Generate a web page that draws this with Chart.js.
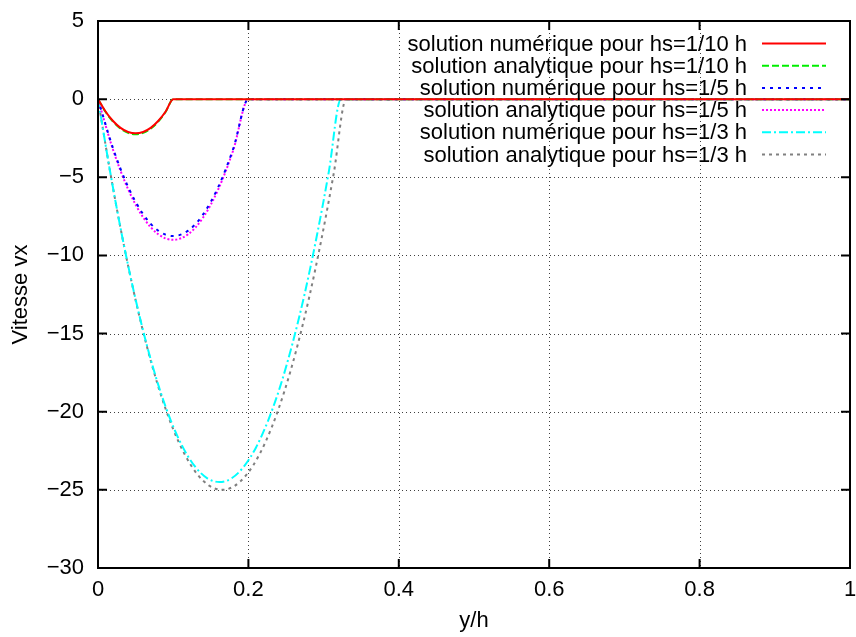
<!DOCTYPE html>
<html><head><meta charset="utf-8">
<script src="https://cdn.jsdelivr.net/npm/chart.js@4/dist/chart.umd.min.js"></script>
<style>html,body{margin:0;padding:0;background:#fff}</style>
</head><body>
<canvas id="c" width="856" height="637"></canvas>
<script>
// ---- data ----
const x10  = [0, 0.01, 0.02, 0.03, 0.04, 0.05, 0.06, 0.07, 0.08, 0.09, 0.10, 1.0];
const num10 = [0, -0.79, -1.40, -1.84, -2.10, -2.19, -2.10, -1.84, -1.40, -0.79, 0, 0];
const ana10 = [0, -0.81, -1.44, -1.89, -2.16, -2.25, -2.16, -1.89, -1.44, -0.81, 0, 0];

const x5   = [0, 0.02, 0.04, 0.06, 0.08, 0.10, 0.12, 0.14, 0.16, 0.18, 0.20, 1.0];
const num5 = [0, -3.15, -5.61, -7.36, -8.41, -8.76, -8.41, -7.36, -5.61, -3.15, 0, 0];
const ana5 = [0, -3.24, -5.76, -7.56, -8.64, -9.00, -8.64, -7.56, -5.76, -3.24, 0, 0];

const x3num = [0, 0.0162, 0.0323, 0.0485, 0.0646, 0.0808, 0.0969, 0.1131, 0.1292, 0.1454, 0.1615,
               0.1777, 0.1938, 0.2100, 0.2261, 0.2423, 0.2584, 0.2746, 0.2907, 0.3069, 0.323, 1.0];
const num3  = [0, -4.66, -8.82, -12.50, -15.68, -18.38, -20.58, -22.30, -23.52, -24.26, -24.5,
               -24.26, -23.52, -22.30, -20.58, -18.38, -15.68, -12.50, -8.82, -4.66, 0, 0];
const x3ana = [0, 0.0165, 0.033, 0.0495, 0.066, 0.0825, 0.099, 0.1155, 0.132, 0.1485, 0.165,
               0.1815, 0.198, 0.2145, 0.231, 0.2475, 0.264, 0.2805, 0.297, 0.3135, 0.33, 1.0];
const ana3  = [0, -4.75, -9, -12.75, -16, -18.75, -21, -22.75, -24, -24.75, -25,
               -24.75, -24, -22.75, -21, -18.75, -16, -12.75, -9, -4.75, 0, 0];

const seriesLabels = [
  'solution numérique pour hs=1/10 h',
  'solution analytique pour hs=1/10 h',
  'solution numérique pour hs=1/5 h',
  'solution analytique pour hs=1/5 h',
  'solution numérique pour hs=1/3 h',
  'solution analytique pour hs=1/3 h'
];
const xTickValues = [0, 0.2, 0.4, 0.6, 0.8, 1];
const yTickValues = [5, 0, -5, -10, -15, -20, -25, -30];
const xTitle = 'y/h';
const yTitle = 'Vitesse vx';

// ---- styles ----
const FONT = '"Liberation Sans", Arial, sans-serif';
const FS = 22;
const colors = ['#ff0000', '#00ee00', '#0000ff', '#ff00ff', '#00ffff', '#808080'];
const dashes = [[], [7, 3], [3, 5], [2, 2], [9, 3, 2, 3], [3, 4]];

function pts(xs, ys) { return xs.map((x, i) => ({x: x, y: ys[i]})); }
const seriesData = [pts(x10, num10), pts(x10, ana10), pts(x5, num5), pts(x5, ana5), pts(x3num, num3), pts(x3ana, ana3)];

const datasets = seriesData.map((d, i) => ({
  label: seriesLabels[i],
  data: d,
  borderColor: colors[i],
  backgroundColor: colors[i],
  borderWidth: 2,
  borderDash: dashes[i],
  pointRadius: 0,
  fill: false,
  cubicInterpolationMode: 'monotone'
}));

function fmt(v) { return v < 0 ? '\u2212' + Math.abs(v) : String(v); }

const framePlugin = {
  id: 'frame',
  beforeDatasetsDraw(chart) {
    const {ctx, chartArea: a, scales} = chart;
    ctx.save();
    ctx.strokeStyle = 'rgba(0,0,0,0.75)';
    ctx.lineWidth = 1;
    ctx.setLineDash([1, 3]);
    xTickValues.forEach(v => {
      if (v === scales.x.min || v === scales.x.max) return;
      const px = Math.round(scales.x.getPixelForValue(v)) + 0.5;
      ctx.beginPath(); ctx.moveTo(px, a.top); ctx.lineTo(px, a.bottom); ctx.stroke();
    });
    yTickValues.forEach(v => {
      if (v === scales.y.min || v === scales.y.max) return;
      const py = Math.round(scales.y.getPixelForValue(v)) + 0.5;
      ctx.beginPath(); ctx.moveTo(a.left, py); ctx.lineTo(a.right, py); ctx.stroke();
    });
    ctx.restore();
  },
  afterDatasetsDraw(chart) {
    const {ctx, chartArea: a, scales} = chart;
    ctx.save();
    ctx.setLineDash([]);
    ctx.strokeStyle = '#000';
    ctx.lineWidth = 2;
    const TL = 9;
    xTickValues.forEach(v => {
      const px = scales.x.getPixelForValue(v);
      ctx.beginPath();
      ctx.moveTo(px, a.bottom); ctx.lineTo(px, a.bottom - TL);
      ctx.moveTo(px, a.top); ctx.lineTo(px, a.top + TL);
      ctx.stroke();
    });
    yTickValues.forEach(v => {
      const py = scales.y.getPixelForValue(v);
      ctx.beginPath();
      ctx.moveTo(a.left, py); ctx.lineTo(a.left + TL, py);
      ctx.moveTo(a.right, py); ctx.lineTo(a.right - TL, py);
      ctx.stroke();
    });
    ctx.strokeRect(a.left, a.top, a.right - a.left, a.bottom - a.top);

    // legend (gnuplot style: right-aligned text, sample on the right)
    ctx.font = FS + 'px ' + FONT;
    ctx.fillStyle = '#000';
    ctx.textAlign = 'right';
    ctx.textBaseline = 'middle';
    chart.data.datasets.forEach((ds, i) => {
      const y = 43.5 + 22.2 * i;
      ctx.fillText(ds.label, 747, y + 1);
      ctx.beginPath();
      ctx.strokeStyle = ds.borderColor;
      ctx.lineWidth = 2;
      ctx.setLineDash(ds.borderDash);
      ctx.moveTo(762, y); ctx.lineTo(826, y);
      ctx.stroke();
    });
    ctx.restore();
  }
};

new Chart(document.getElementById('c'), {
  type: 'line',
  data: {datasets: datasets},
  options: {
    responsive: false,
    animation: false,
    devicePixelRatio: 1,
    layout: {padding: {top: 21, right: 6, left: 0, bottom: 0}},
    plugins: {legend: {display: false}, tooltip: {enabled: false}},
    scales: {
      x: {
        type: 'linear', min: 0, max: 1,
        afterFit(s) { s.height = 69; s.paddingRight = 0; s.paddingLeft = 0; },
        afterBuildTicks(s) { s.ticks = xTickValues.map(v => ({value: v})); },
        grid: {display: false, drawTicks: false},
        border: {display: false},
        ticks: {color: '#000', font: {family: FONT, size: FS}, padding: 9, maxRotation: 0,
                callback: v => fmt(v)},
        title: {display: true, text: xTitle, color: '#000', font: {family: FONT, size: FS}, padding: {top: 0, bottom: 3}}
      },
      y: {
        type: 'linear', min: -30, max: 5,
        afterFit(s) { s.width = 98; s.paddingTop = 0; s.paddingBottom = 0; },
        afterBuildTicks(s) { s.ticks = yTickValues.map(v => ({value: v})); },
        grid: {display: false, drawTicks: false},
        border: {display: false},
        ticks: {color: '#000', font: {family: FONT, size: FS}, padding: 14,
                callback: v => fmt(v)},
        title: {display: true, text: yTitle, color: '#000', font: {family: FONT, size: FS}, padding: {top: 8, bottom: 0}}
      }
    }
  },
  plugins: [framePlugin]
});
</script>
</body></html>
